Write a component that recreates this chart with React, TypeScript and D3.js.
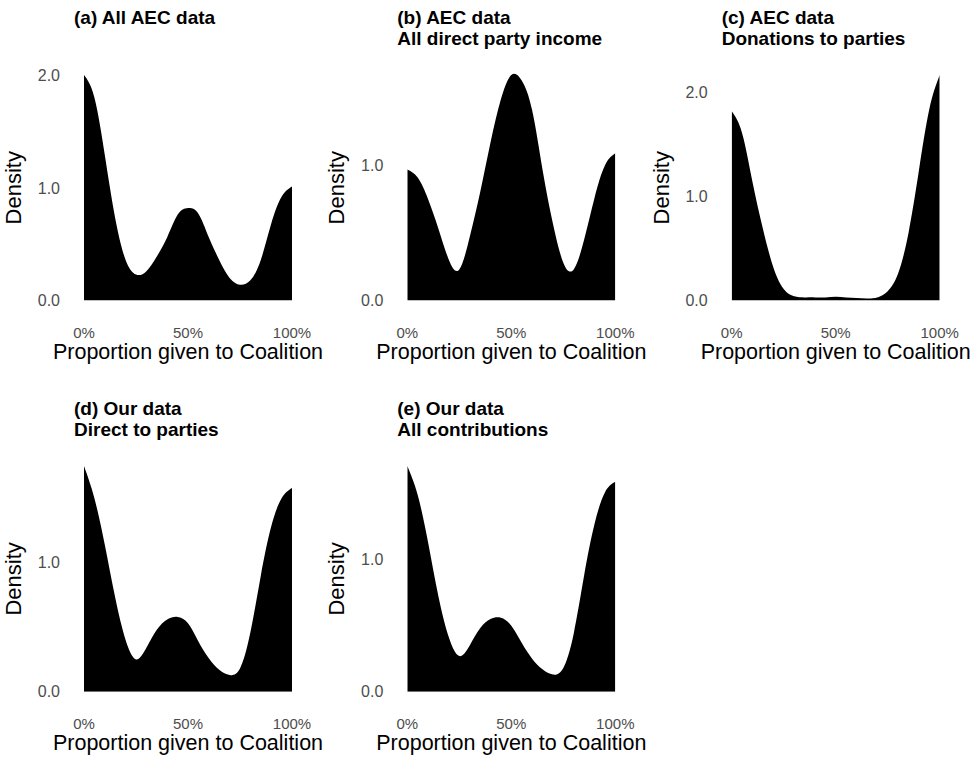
import React from 'react';
import * as d3 from 'd3';

// Proportion given to Coalition (sample positions)
const xGrid = [0, 0.05, 0.1, 0.15, 0.2, 0.25, 0.3, 0.35, 0.4, 0.45, 0.5, 0.55, 0.6, 0.65, 0.7, 0.75, 0.8, 0.85, 0.9, 0.95, 1.0];

// Density values
const densityA = [2.0, 1.8, 1.29, 0.73, 0.36, 0.23, 0.26, 0.39, 0.56, 0.76, 0.82, 0.77, 0.56, 0.36, 0.2, 0.14, 0.18, 0.36, 0.68, 0.92, 1.01];
const densityB = [0.97, 0.91, 0.75, 0.53, 0.3, 0.23, 0.47, 0.8, 1.17, 1.49, 1.67, 1.63, 1.41, 0.97, 0.57, 0.28, 0.23, 0.45, 0.76, 1.0, 1.09];
const densityC = [1.82, 1.61, 1.14, 0.69, 0.32, 0.11, 0.04, 0.03, 0.03, 0.03, 0.035, 0.03, 0.025, 0.02, 0.03, 0.09, 0.26, 0.65, 1.25, 1.84, 2.17];
const densityD = [1.75, 1.5, 1.14, 0.73, 0.4, 0.25, 0.34, 0.48, 0.56, 0.58, 0.53, 0.39, 0.26, 0.17, 0.13, 0.18, 0.46, 0.9, 1.28, 1.5, 1.58];
const densityE = [1.71, 1.49, 1.13, 0.72, 0.41, 0.27, 0.35, 0.48, 0.55, 0.56, 0.5, 0.37, 0.25, 0.17, 0.13, 0.18, 0.44, 0.88, 1.27, 1.51, 1.59];

const panelTitles = [
  ['(a) All AEC data'],
  ['(b) AEC data', 'All direct party income'],
  ['(c) AEC data', 'Donations to parties'],
  ['(d) Our data', 'Direct to parties'],
  ['(e) Our data', 'All contributions'],
];
const panelValues = [densityA, densityB, densityC, densityD, densityE];

const xTicks = [0, 0.5, 1];
const yTicks = [0, 1, 2];
const xAxisTitle = 'Proportion given to Coalition';
const yAxisTitle = 'Density';

// layout
const panelLefts = [84, 407.3, 731.7, 84, 407.3];
const panelRows = [0, 0, 0, 1, 1];
const rowTop = [75, 466];
const rowBottom = [300.5, 691.7];
const plotW = 208;
const FONT = '"Liberation Sans", Arial, Helvetica, sans-serif';

function Panel({ idx }: { idx: number }) {
  const values = panelValues[idx];
  const left = panelLefts[idx];
  const row = panelRows[idx];
  const top = rowTop[row];
  const bottom = rowBottom[row];
  const maxV = d3.max(values) as number;
  const x = d3.scaleLinear().domain([0, 1]).range([left, left + plotW]);
  const y = d3.scaleLinear().domain([0, maxV]).range([bottom, top]);
  const pts = xGrid.map((g, i) => ({ x: g, y: values[i] }));
  const area = d3
    .area<{ x: number; y: number }>()
    .x((d) => x(d.x))
    .y0(y(0))
    .y1((d) => Math.min(y(d.y), bottom))
    .curve(d3.curveNatural);
  const fmtX = d3.format('.0%');
  const fmtY = d3.format('.1f');
  const titles = panelTitles[idx];
  return (
    <g>
      {titles.map((t, i) => (
        <text
          key={i}
          x={left - 10}
          y={top - 51 + i * 21}
          fontFamily={FONT}
          fontWeight="bold"
          fontSize={19}
          fill="#000"
        >
          {t}
        </text>
      ))}
      <clipPath id={`clip-${idx}`}>
        <rect x={left} y={top - 2} width={plotW} height={bottom - top + 2} />
      </clipPath>
      <path d={area(pts) || ''} fill="#000" clipPath={`url(#clip-${idx})`} />
      {yTicks
        .filter((t) => t <= maxV + 1e-9)
        .map((t) => (
          <text
            key={t}
            x={left - 24}
            y={y(t)}
            dy="0.36em"
            textAnchor="end"
            fontFamily={FONT}
            fontSize={16}
            fill="#4d4d4d"
          >
            {fmtY(t)}
          </text>
        ))}
      {xTicks.map((t) => (
        <text
          key={t}
          x={x(t)}
          y={bottom + 37}
          textAnchor="middle"
          fontFamily={FONT}
          fontSize={15}
          fill="#4d4d4d"
        >
          {fmtX(t)}
        </text>
      ))}
      <text
        x={left + plotW / 2}
        y={bottom + 58.5}
        textAnchor="middle"
        fontFamily={FONT}
        fontSize={21.5}
        fill="#000"
      >
        {xAxisTitle}
      </text>
      <text
        transform={`translate(${left - 63},${(top + bottom) / 2}) rotate(-90)`}
        textAnchor="middle"
        fontFamily={FONT}
        fontSize={22}
        fill="#000"
      >
        {yAxisTitle}
      </text>
    </g>
  );
}

export default function App() {
  return (
    <svg
      width={980}
      height={763}
      style={{ position: 'absolute', left: 0, top: 0, background: '#fff' }}
    >
      <rect width={980} height={763} fill="#fff" />
      {panelValues.map((_, i) => (
        <Panel key={i} idx={i} />
      ))}
    </svg>
  );
}
